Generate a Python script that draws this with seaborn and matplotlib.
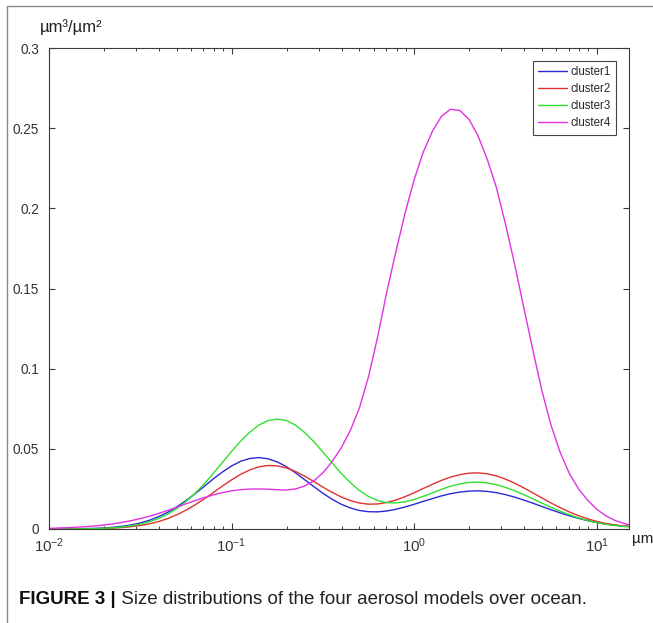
import matplotlib
matplotlib.use("Agg")
import matplotlib.pyplot as plt
from matplotlib.lines import Line2D
from matplotlib.ticker import LogLocator, FixedLocator, FixedFormatter, NullFormatter
import seaborn as sns
import pandas as pd

# particle radius (um)
size_um = [0.0100, 0.0112, 0.0126, 0.0141, 0.0158, 0.0178, 0.0200, 0.0224, 0.0251, 0.0282,
           0.0316, 0.0355, 0.0398, 0.0447, 0.0501, 0.0562, 0.0631, 0.0708, 0.0794, 0.0891,
           0.100, 0.112, 0.126, 0.141, 0.158, 0.178, 0.200, 0.224, 0.251, 0.282,
           0.316, 0.355, 0.398, 0.447, 0.501, 0.562, 0.631, 0.708, 0.794, 0.891,
           1.00, 1.12, 1.26, 1.41, 1.58, 1.78, 2.00, 2.24, 2.51, 2.82,
           3.16, 3.55, 3.98, 4.47, 5.01, 5.62, 6.31, 7.08, 7.94, 8.91,
           10.0, 11.2, 12.6, 14.1, 15.0]

cluster1 = [0.00002, 0.00004, 0.00007, 0.00013, 0.00022, 0.00038, 0.00064, 0.00105, 0.00166, 0.00254,
            0.00378, 0.00546, 0.00766, 0.01043, 0.01379, 0.01768, 0.02202, 0.02662, 0.03123, 0.03558,
            0.03934, 0.04222, 0.04399, 0.04457, 0.04380, 0.04182, 0.03880, 0.03502, 0.03079, 0.02644,
            0.02229, 0.01856, 0.01548, 0.01312, 0.01155, 0.01077, 0.01069, 0.01123, 0.01229, 0.01373,
            0.01542, 0.01722, 0.01900, 0.02065, 0.02203, 0.02303, 0.02365, 0.02380, 0.02345, 0.02265,
            0.02144, 0.01988, 0.01806, 0.01608, 0.01402, 0.01198, 0.01003, 0.00823, 0.00662, 0.00521,
            0.00402, 0.00304, 0.00235, 0.00180, 0.00160]

cluster2 = [0.00001, 0.00002, 0.00003, 0.00006, 0.00011, 0.00020, 0.00034, 0.00056, 0.00091, 0.00143,
            0.00218, 0.00323, 0.00465, 0.00652, 0.00886, 0.01171, 0.01503, 0.01876, 0.02274, 0.02679,
            0.03066, 0.03410, 0.03690, 0.03878, 0.03963, 0.03938, 0.03807, 0.03586, 0.03295, 0.02963,
            0.02616, 0.02287, 0.01999, 0.01771, 0.01620, 0.01550, 0.01562, 0.01651, 0.01808, 0.02017,
            0.02263, 0.02526, 0.02789, 0.03033, 0.03237, 0.03391, 0.03481, 0.03500, 0.03443, 0.03311,
            0.03112, 0.02858, 0.02566, 0.02251, 0.01931, 0.01618, 0.01325, 0.01060, 0.00829, 0.00634,
            0.00474, 0.00346, 0.00255, 0.00188, 0.00170]

cluster3 = [0.00001, 0.00002, 0.00004, 0.00008, 0.00015, 0.00026, 0.00045, 0.00076, 0.00124, 0.00196,
            0.00301, 0.00450, 0.00655, 0.00927, 0.01276, 0.01708, 0.02224, 0.02816, 0.03469, 0.04155,
            0.04840, 0.05485, 0.06046, 0.06482, 0.06758, 0.06856, 0.06760, 0.06473, 0.06021, 0.05447,
            0.04798, 0.04125, 0.03476, 0.02891, 0.02402, 0.02028, 0.01774, 0.01643, 0.01623, 0.01695,
            0.01842, 0.02038, 0.02257, 0.02475, 0.02669, 0.02817, 0.02906, 0.02925, 0.02872, 0.02762,
            0.02596, 0.02385, 0.02141, 0.01878, 0.01611, 0.01350, 0.01105, 0.00885, 0.00692, 0.00529,
            0.00395, 0.00288, 0.00215, 0.00160, 0.00140]

cluster4 = [0.0004, 0.0006, 0.0008, 0.0011, 0.0014, 0.0019, 0.0025, 0.0032, 0.0041, 0.0052,
            0.0065, 0.0080, 0.0097, 0.0116, 0.0136, 0.0157, 0.0177, 0.0196, 0.0213, 0.0227,
            0.0238, 0.0245, 0.0249, 0.0250, 0.0248, 0.0245, 0.0243, 0.0250, 0.0268, 0.0300,
            0.0350, 0.0420, 0.0505, 0.0615, 0.0755, 0.0950, 0.1200, 0.1480, 0.1730, 0.1970,
            0.2180, 0.2350, 0.2483, 0.2574, 0.2618, 0.2610, 0.2553, 0.2450, 0.2306, 0.2129,
            0.1902, 0.1649, 0.1381, 0.1113, 0.0859, 0.0645, 0.0475, 0.0345, 0.0250, 0.0179,
            0.0123, 0.0082, 0.0053, 0.0034, 0.0027]

series_names = ["cluster1", "cluster2", "cluster3", "cluster4"]
series_colors = ["#2a2ad2", "#e03232", "#2fe02f", "#e032e0"]

y_ticks = [0, 0.05, 0.1, 0.15, 0.2, 0.25, 0.3]
y_tick_labels = ["0", "0.05", "0.1", "0.15", "0.2", "0.25", "0.3"]
x_ticks = [0.01, 0.1, 1, 10]
x_tick_labels = [r"$10^{-2}$", r"$10^{-1}$", r"$10^{0}$", r"$10^{1}$"]

y_unit = "µm³/µm²"
x_unit = "µm"
caption_bold = "FIGURE 3 |"
caption_text = " Size distributions of the four aerosol models over ocean."

# ------------------------------------------------------------------
sns.set_style("ticks")
plt.rcParams["font.family"] = ["Liberation Sans", "DejaVu Sans"]
plt.rcParams["mathtext.fontset"] = "custom"
plt.rcParams["mathtext.rm"] = "Liberation Sans"
plt.rcParams["mathtext.it"] = "Liberation Sans:italic"
plt.rcParams["mathtext.bf"] = "Liberation Sans:bold"

all_values = cluster1 + cluster2 + cluster3 + cluster4
df = pd.DataFrame({
    "size": size_um * 4,
    "dv": all_values,
    "cluster": [n for n in series_names for _ in size_um],
})

fig = plt.figure(figsize=(6.53, 6.23), dpi=100)
ax = fig.add_axes([49 / 653, 1 - 529 / 623, 580 / 653, 481 / 623])

sns.lineplot(data=df, x="size", y="dv", hue="cluster", hue_order=series_names,
             palette=series_colors, estimator=None, linewidth=1.0, ax=ax)

ax.set_xscale("log")
ax.set_xlim(0.01, 15)
ax.set_ylim(0, 0.3)
ax.set_xlabel("")
ax.set_ylabel("")

axis_color = "#3a3a3a"
for sp in ax.spines.values():
    sp.set_visible(True)
    sp.set_color(axis_color)
    sp.set_linewidth(0.8)

ax.yaxis.set_major_locator(FixedLocator(y_ticks))
ax.yaxis.set_major_formatter(FixedFormatter(y_tick_labels))
ax.xaxis.set_major_locator(FixedLocator(x_ticks))
ax.xaxis.set_major_formatter(FixedFormatter(x_tick_labels))
ax.xaxis.set_minor_locator(LogLocator(base=10, subs=[2, 3, 4, 5, 6, 7, 8, 9], numticks=20))
ax.xaxis.set_minor_formatter(NullFormatter())

ax.tick_params(axis="both", which="major", direction="in", length=4.5, width=0.8,
               color=axis_color, labelcolor="#333333", labelsize=9.8,
               top=True, right=True)
ax.tick_params(axis="x", which="major", labelsize=10.8, pad=5)
ax.tick_params(axis="x", which="minor", direction="in", length=2.5, width=0.7,
               color=axis_color, top=True, bottom=True)
ax.tick_params(axis="y", which="major", pad=7)

handles, labels = ax.get_legend_handles_labels()
leg = ax.legend(handles, labels, loc="upper right", fontsize=8.3, frameon=True,
                fancybox=False, framealpha=1, edgecolor="#444444",
                borderaxespad=1.1, handlelength=2.5, handletextpad=0.3,
                labelspacing=0.45, borderpad=0.45)
leg.get_frame().set_linewidth(0.8)
for lh in leg.get_lines():
    lh.set_linewidth(1.0)

fig.text(40 / 653, 1 - 27 / 623, y_unit, fontsize=12, color="#222222",
         ha="left", va="center")
fig.text(632 / 653, 1 - 539 / 623, x_unit, fontsize=11, color="#222222",
         ha="left", va="center")

cap_fam = ["Liberation Sans", "DejaVu Sans"]
t1 = fig.text(19 / 653, 1 - 599 / 623, caption_bold, fontsize=13.5,
              fontweight="bold", family=cap_fam, color="#111111",
              ha="left", va="center")
fig.canvas.draw()
bb = t1.get_window_extent()
fig.text(bb.x1 / fig.bbox.width, 1 - 599 / 623, caption_text, fontsize=13.5,
         family=cap_fam, color="#222222", ha="left", va="center")

# page frame lines (top and left)
fig.add_artist(Line2D([7 / 653, 1.0], [1 - 6 / 623, 1 - 6 / 623],
                      transform=fig.transFigure, color="#8a8a8a", linewidth=1.0))
fig.add_artist(Line2D([7 / 653, 7 / 653], [0.0, 1 - 6 / 623],
                      transform=fig.transFigure, color="#8a8a8a", linewidth=1.0))

fig.savefig("out.png", dpi=100)
